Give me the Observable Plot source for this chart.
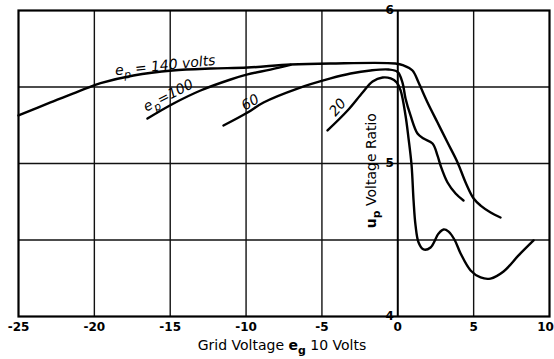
<!DOCTYPE html>
<html>
<head>
<meta charset="utf-8">
<script src="https://cdn.jsdelivr.net/npm/d3@7"></script>
<script src="https://cdn.jsdelivr.net/npm/@observablehq/plot@0.6"></script>
<style>
  html, body { margin: 0; padding: 0; background: #fff; }
  #chart svg { display: block; }
</style>
</head>
<body>
<div id="chart"></div>
<script>
// ---- data ----
const xTicks = [-25, -20, -15, -10, -5, 0, 5];
const xLastTick = [10];
const xGrid = [-20, -15, -10, -5, 5];
const yTicks = [4, 5, 6];
const yGrid = [4.5, 5, 5.5];

// e_p = 140 volts
const ep140X = [-25, -22.89, -20.45, -19.59, -17.42, -14.85, -12.34, -9.90, -7.07, -4.44, -0.16, 0.38, 0.97, 1.37, 1.96, 2.62, 3.28, 3.94, 4.47, 5.00, 5.46, 6.12, 6.77];
const ep140Y = [5.314, 5.399, 5.495, 5.525, 5.575, 5.608, 5.621, 5.627, 5.647, 5.654, 5.654, 5.641, 5.608, 5.529, 5.399, 5.268, 5.137, 5.007, 4.876, 4.771, 4.725, 4.680, 4.647];

// e_p = 100 (joins the 140 curve)
const ep100X = [-16.50, -14.78, -13.00, -11.02, -9.90, -8.39, -7.07];
const ep100Y = [5.294, 5.392, 5.477, 5.549, 5.582, 5.614, 5.645];

// e_p = 60
const ep60X = [-11.49, -9.90, -8.85, -6.61, -4.43, -3.11, -1.80, -0.61, -0.01, 0.31, 0.51, 0.84, 1.30, 1.70, 2.29, 2.62, 2.82, 3.28, 3.81, 4.33];
const ep60Y = [5.248, 5.333, 5.399, 5.490, 5.556, 5.588, 5.608, 5.614, 5.598, 5.529, 5.425, 5.314, 5.196, 5.163, 5.131, 5.052, 4.987, 4.876, 4.804, 4.758];

// e_p = 20
const ep20X = [-4.63, -3.31, -2.32, -1.66, -1.00, -0.47, -0.07, 0.19, 0.51, 0.71, 0.91, 1.04, 1.17, 1.37, 1.70, 2.16, 2.69, 3.02, 3.35, 3.75, 4.14, 4.80, 5.46, 6.11, 6.97, 7.96, 8.95];
const ep20Y = [5.216, 5.346, 5.464, 5.536, 5.562, 5.556, 5.529, 5.477, 5.314, 5.163, 4.987, 4.758, 4.595, 4.484, 4.438, 4.451, 4.542, 4.569, 4.555, 4.500, 4.412, 4.301, 4.255, 4.248, 4.294, 4.399, 4.497];

// curve labels (data coordinates)
const labelNames = ["140", "100", "60", "20"];
const labelX = [-15.3, -15.1, -9.7, -3.95];
const labelY = [5.64, 5.444, 5.399, 5.366];

function series(name, xs, ys) {
  return xs.map((x, i) => ({ name, x, y: ys[i] }));
}
const curves = [
  series("140", ep140X, ep140Y),
  series("100", ep100X, ep100Y),
  series("60", ep60X, ep60Y),
  series("20", ep20X, ep20Y)
].flat();

const font = "'DejaVu Sans', sans-serif";

const chart = Plot.plot({
  width: 554,
  height: 359,
  marginLeft: 18,
  marginRight: 5,
  marginTop: 10,
  marginBottom: 43,
  style: { background: "#fff", fontFamily: font, fontSize: "12px", color: "#000" },
  x: { domain: [-25, 10] },
  y: { domain: [4, 6], axis: null },
  marks: [
    Plot.ruleX(xGrid, { stroke: "#111", strokeWidth: 1.4 }),
    Plot.ruleY(yGrid, { stroke: "#111", strokeWidth: 1.4 }),
    Plot.ruleX([0], { stroke: "#000", strokeWidth: 2 }),
    Plot.frame({ stroke: "#000", strokeWidth: 2.2 }),
    Plot.line(curves, { x: "x", y: "y", z: "name", curve: "catmull-rom", stroke: "#000", strokeWidth: 2.4 }),
    Plot.axisX({ ticks: xTicks, tickSize: 0, tickPadding: 6, label: null, fontSize: 12, fontWeight: "bold", tickFormat: d => String(d) }),
    Plot.axisX({ ticks: xLastTick, tickSize: 0, tickPadding: 6, label: null, fontSize: 12, fontWeight: "bold", dx: -4, tickFormat: d => String(d) }),
    Plot.text(yTicks, { x: 0, y: d => d, text: d => String(d), dx: -4, textAnchor: "end", fontSize: 12, fontWeight: "bold" })
  ]
});

document.getElementById("chart").appendChild(chart);

// rich-text annotations with subscripts, positioned through the plot's own scales
const sx = chart.scale("x"), sy = chart.scale("y");
const svg = d3.select(chart);
const ann = svg.append("g").attr("font-family", font).attr("fill", "#000");

function sub(t, main, s, size, bold) {
  const a = t.append("tspan").text(main);
  const b = t.append("tspan").attr("font-size", size * 0.78).attr("dy", size * 0.3).text(s);
  if (bold) { a.attr("font-weight", "bold"); b.attr("font-weight", "bold"); }
  return -size * 0.3;
}

const angles = [-6, -27, -30, -50];
labelNames.forEach((name, i) => {
  const px = sx.apply(labelX[i]), py = sy.apply(labelY[i]);
  const size = 14;
  const t = ann.append("text")
    .attr("transform", `translate(${px},${py}) rotate(${angles[i]})`)
    .attr("text-anchor", "middle")
    .attr("dy", "0.35em")
    .attr("font-style", "italic")
    .attr("font-size", size);
  if (name === "140") {
    const back = sub(t, "e", "p", size, false);
    t.append("tspan").attr("dy", back).text(" = 140 volts");
  } else if (name === "100") {
    const back = sub(t, "e", "p", size, false);
    t.append("tspan").attr("dy", back).text("=100");
  } else {
    t.text(name);
  }
});

// x-axis title
const xt = ann.append("text")
  .attr("x", sx.apply(-7.6))
  .attr("y", 350)
  .attr("text-anchor", "middle")
  .attr("font-size", 14);
xt.append("tspan").text("Grid Voltage ");
const bx = sub(xt, "e", "g", 14, true);
xt.append("tspan").attr("dy", bx).text(" 10 Volts");

// y-axis title (rotated)
const yt = ann.append("text")
  .attr("transform", `translate(${sx.apply(-1.75)},${sy.apply(4.95)}) rotate(-90)`)
  .attr("text-anchor", "middle")
  .attr("dy", "0.35em")
  .attr("font-size", 14);
const by = sub(yt, "u", "p", 14, true);
yt.append("tspan").attr("dy", by).text(" Voltage Ratio");
</script>
</body>
</html>
